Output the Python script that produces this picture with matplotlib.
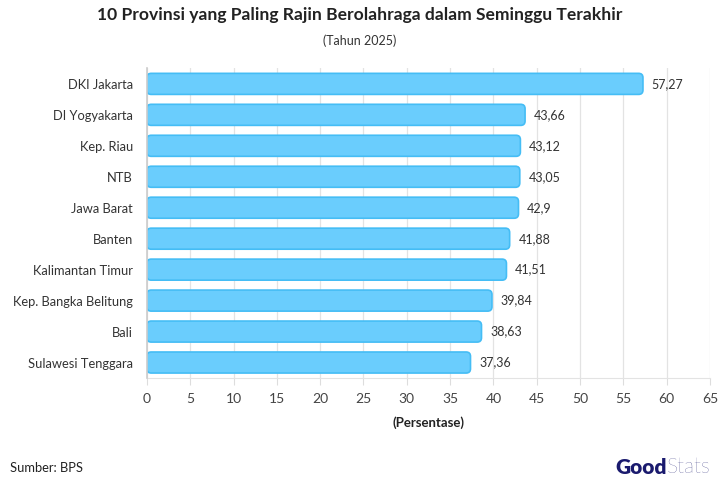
import matplotlib.pyplot as plt
from matplotlib.patches import FancyBboxPatch

plt.rcParams['font.family'] = ['Lato', 'DejaVu Sans']

provinces = ["DKI Jakarta", "DI Yogyakarta", "Kep. Riau", "NTB", "Jawa Barat",
             "Banten", "Kalimantan Timur", "Kep. Bangka Belitung", "Bali",
             "Sulawesi Tenggara"]
values = [57.27, 43.66, 43.12, 43.05, 42.9, 41.88, 41.51, 39.84, 38.63, 37.36]
x_ticks = list(range(0, 70, 5))

fig = plt.figure(figsize=(7.2, 4.8), dpi=100)
ax = fig.add_axes([0.204, 0.2125, 0.782, 0.645])

ax.set_xlim(0, 65)
ax.set_ylim(len(values) - 0.5, -0.5)

# rounded bars, corners kept round despite the axes aspect
aspect = (10 / 310) / (65 / 563)
bar_h = 0.68
for i, v in enumerate(values):
    box = FancyBboxPatch((0, i - bar_h / 2), v, bar_h,
                         boxstyle="round,pad=0,rounding_size=0.5",
                         mutation_aspect=aspect,
                         facecolor="#6acdfd", edgecolor="#45bdf5",
                         linewidth=1.2, zorder=3)
    ax.add_patch(box)
    label = f"{v:g}".replace(".", ",")
    ax.text(v + 1.0, i, label, va="center", ha="left", fontsize=9,
            color="#333333")

ax.set_yticks(range(len(provinces)))
ax.set_yticklabels(provinces, fontsize=9.3, color="#333333")
ax.set_xticks(x_ticks)
ax.set_xticklabels([str(t) for t in x_ticks], fontsize=10, color="#444444")
ax.tick_params(axis="y", length=0, pad=10)
ax.tick_params(axis="x", length=5, color="#dddddd", pad=6)

ax.grid(axis="x", color="#e3e3e3", linewidth=0.9, zorder=0)
for s in ["top", "right"]:
    ax.spines[s].set_visible(False)
ax.spines["left"].set_color("#cccccc")
ax.spines["left"].set_linewidth(1.2)
ax.spines["bottom"].set_color("#e3e3e3")
ax.spines["left"].set_zorder(4)

ax.set_xlabel("(Persentase)", fontsize=9.5, fontweight="bold", color="#222222",
              labelpad=8)

fig.text(0.5, 0.968, "10 Provinsi yang Paling Rajin Berolahraga dalam Seminggu Terakhir",
         ha="center", va="center", fontsize=12.6, fontweight="bold", color="#222222")
fig.text(0.50, 0.915, "(Tahun 2025)", ha="center", va="center", fontsize=9,
         color="#333333")
fig.text(0.014, 0.025, "Sumber: BPS", ha="left", va="center", fontsize=9.3,
         color="#222222")
fig.text(0.926, 0.027, "Good", ha="right", va="center", fontsize=15,
         fontweight="heavy", color="#1a1a6e")
fig.text(0.926, 0.027, "Stats", ha="left", va="center", fontsize=15,
         fontweight="light", color="#1a1a6e")

fig.savefig("out.png", dpi=100)
